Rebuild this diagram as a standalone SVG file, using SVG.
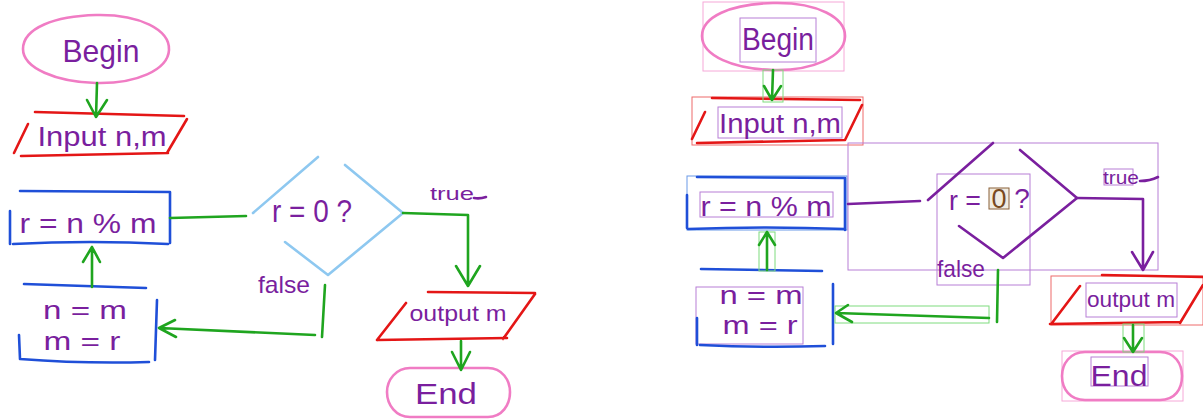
<svg xmlns="http://www.w3.org/2000/svg" width="1203" height="419" viewBox="0 0 1203 419">
<defs>
<style>
.ink{fill:none;stroke-width:2.6;stroke-linecap:round;stroke-linejoin:round}
.pink{stroke:#f07cc4}
.red{stroke:#e41616}
.blue{stroke:#1f4fd8}
.lblue{stroke:#8ec8f0}
.green{stroke:#1fa51f}
.purple{stroke:#7a1f9e}
.t{font-family:"Liberation Sans","DejaVu Sans",sans-serif;fill:#7a1f9e;text-anchor:middle}
.bx{fill:none;stroke-width:1}
.bpink{stroke:#f6a8d8}
.bpur{stroke:#b77fd6}
.bred{stroke:#ee6a6a}
.bgreen{stroke:#7fdc7f}
.bblue{stroke:#6a9ae8}
.bbrown{stroke:#8a6038;fill:#d8c8a8;fill-opacity:0.35}
</style>
</defs>
<rect width="1203" height="419" fill="#ffffff"/>

<!-- LEFT DIAGRAM -->
<g id="L-begin">
<path class="ink pink" d="M96,15 C140,14 170,30 169,50 C168,70 136,84 96,83 C56,82 23,68 23,49 C23,28 55,16 96,15 Z"/>
<text class="t" x="101" y="62" font-size="32" textLength="77" lengthAdjust="spacingAndGlyphs">Begin</text>
</g>
<g id="L-input">
<path class="ink red" d="M35,112 L184,116 M187,119 L167,153 M21,156 L168,153 M28,124 L14,153"/>
<text class="t" x="102" y="146" font-size="27" textLength="129" lengthAdjust="spacingAndGlyphs">Input n,m</text>
</g>
<g id="L-calc">
<path class="ink blue" d="M20,191 L170,192 L170,243 M13,244 Q90,240 168,244 M10,211 L10,244"/>
<text class="t" x="88" y="233" font-size="28" textLength="137" lengthAdjust="spacingAndGlyphs">r = n % m</text>
</g>
<g id="L-decision">
<path class="ink lblue" d="M253,213 L318,157 M345,165 L403,213 L328,275 L285,242"/>
<text class="t" x="312" y="222" font-size="32" textLength="80" lengthAdjust="spacingAndGlyphs">r = 0 ?</text>
</g>
<g id="L-swap">
<path class="ink blue" d="M24,284 L146,288 M157,300 L155,360 M20,359 Q85,364 149,362 M19,335 L20,359"/>
<text class="t" x="85" y="319" font-size="26" textLength="84" lengthAdjust="spacingAndGlyphs">n = m</text>
<text class="t" x="82" y="350" font-size="26" textLength="77" lengthAdjust="spacingAndGlyphs">m = r</text>
</g>
<g id="L-output">
<path class="ink red" d="M428,292 L535,293 M535,294 L503,339 M377,340 L507,338 M406,303 L377,340"/>
<text class="t" x="458" y="321" font-size="22" textLength="97" lengthAdjust="spacingAndGlyphs">output m</text>
</g>
<g id="L-end">
<path class="ink pink" d="M410,368 L488,368 C502,368 510,380 510,392 C510,405 502,417 488,417 L410,417 C396,417 387,405 387,392 C387,380 396,368 410,368 Z"/>
<text class="t" x="446" y="404" font-size="30" textLength="62" lengthAdjust="spacingAndGlyphs">End</text>
</g>
<g id="L-connectors">
<path class="ink green" d="M97,83 L96,117 M87,100 L96,117 L107,100"/>
<path class="ink green" d="M170,218 L246,216"/>
<path class="ink green" d="M403,213 L468,215 L468,285 M456,266 L468,286 L480,266"/>
<path class="ink green" d="M461,341 L461,370 M452,352 L461,370 L470,352"/>
<path class="ink green" d="M325,285 L322,337 M315,335 L159,328 M175,320 L159,328 L176,337"/>
<path class="ink green" d="M92,287 L92,247 M83,262 L92,247 L100,262"/>
<text class="t" x="452" y="200" font-size="19" textLength="44" lengthAdjust="spacingAndGlyphs">true</text>
<path class="ink purple" d="M474,198 Q480,199 486,197"/>
<text class="t" x="284" y="293" font-size="24" textLength="52" lengthAdjust="spacingAndGlyphs">false</text>
</g>

<!-- RIGHT DIAGRAM -->
<g id="R-begin">
<rect class="bx bpink" x="703" y="2" width="141" height="69"/>
<rect class="bx bpur" x="740" y="18" width="76" height="44"/>
<path class="ink pink" d="M773,3 C818,2 846,18 845,37 C844,57 812,71 773,70 C734,69 702,56 702,36 C702,17 730,4 773,3 Z"/>
<text class="t" x="778" y="50" font-size="31" textLength="72" lengthAdjust="spacingAndGlyphs">Begin</text>
</g>
<g id="R-input">
<rect class="bx bred" x="692" y="97" width="171" height="48"/>
<rect class="bx bpur" x="718" y="107" width="124" height="31"/>
<path class="ink red" d="M712,98 L860,100 M862,105 L845,140 M697,143 L845,140 M705,112 L692,139"/>
<text class="t" x="780" y="133" font-size="27" textLength="122" lengthAdjust="spacingAndGlyphs">Input n,m</text>
</g>
<g id="R-calc">
<rect class="bx bblue" x="687" y="176" width="160" height="54"/>
<rect class="bx bpur" x="700" y="192" width="133" height="25"/>
<path class="ink blue" d="M697,177 L845,178 L845,230 M688,229 Q766,226 845,229 M687,195 L687,228"/>
<text class="t" x="766" y="216" font-size="27" textLength="131" lengthAdjust="spacingAndGlyphs">r = n % m</text>
</g>
<g id="R-decision">
<rect class="bx bpur" x="848" y="143" width="310" height="127"/>
<rect class="bx bpur" x="937" y="174" width="93" height="111"/>
<rect class="bx bbrown" x="989" y="188" width="20" height="21"/>
<path class="ink purple" d="M928,200 L993,143 M1020,150 L1077,198 L1003,258 L959,226"/>
<text class="t" x="965" y="210" font-size="28" textLength="32" lengthAdjust="spacingAndGlyphs">r =</text>
<text x="999" y="208" font-size="27" font-family="Liberation Sans,DejaVu Sans,sans-serif" fill="#7a4a1e" text-anchor="middle">0</text>
<text class="t" x="1022" y="208" font-size="28">?</text>
</g>
<g id="R-swap">
<rect class="bx bpur" x="696" y="287" width="107" height="57"/>
<path class="ink blue" d="M701,269 L822,271 M833,284 L833,344 M700,345 Q762,348 825,346 M697,318 L697,345"/>
<text class="t" x="761" y="304" font-size="26" textLength="83" lengthAdjust="spacingAndGlyphs">n = m</text>
<text class="t" x="760" y="334" font-size="26" textLength="75" lengthAdjust="spacingAndGlyphs">m = r</text>
</g>
<g id="R-output">
<rect class="bx bred" x="1051" y="276" width="152" height="49"/>
<rect class="bx bpur" x="1086" y="283" width="91" height="34"/>
<path class="ink red" d="M1102,275 L1203,277 M1203,285 L1180,323 M1050,324 L1180,322 M1080,286 L1052,323"/>
<text class="t" x="1131" y="307" font-size="22" textLength="88" lengthAdjust="spacingAndGlyphs">output m</text>
</g>
<g id="R-end">
<rect class="bx bpink" x="1062" y="351" width="121" height="50"/>
<rect class="bx bpur" x="1091" y="357" width="57" height="29"/>
<path class="ink pink" d="M1085,352 L1160,352 C1175,352 1182,364 1182,376 C1182,389 1175,400 1160,400 L1085,400 C1070,400 1062,389 1062,376 C1062,364 1070,352 1085,352 Z"/>
<text class="t" x="1119" y="386" font-size="30" textLength="57" lengthAdjust="spacingAndGlyphs">End</text>
</g>
<g id="R-connectors">
<rect class="bx bgreen" x="763" y="70" width="20" height="32"/>
<path class="ink green" d="M773,70 L772,100 M764,86 L772,100 L781,86"/>
<path class="ink purple" d="M848,204 L920,201"/>
<path class="ink purple" d="M1077,198 L1143,199 L1143,269 M1132,252 L1143,270 L1153,252"/>
<rect class="bx bgreen" x="1123" y="324" width="21" height="28"/>
<path class="ink green" d="M1133,325 L1133,352 M1124,338 L1133,352 L1142,338"/>
<rect class="bx bgreen" x="835" y="306" width="154" height="17"/>
<path class="ink green" d="M998,270 L997,322 M989,318 L836,313 M848,305 L836,313 L852,322"/>
<rect class="bx bgreen" x="759" y="232" width="16" height="39"/>
<path class="ink green" d="M767,270 L767,232 M759,245 L767,232 L775,245"/>
<rect class="bx bpur" x="1104" y="169" width="29" height="16"/>
<text class="t" x="1121" y="184" font-size="19" textLength="36" lengthAdjust="spacingAndGlyphs">true</text>
<path class="ink purple" d="M1140,181 Q1150,181 1158,177"/>
<text class="t" x="961" y="277" font-size="24" textLength="48" lengthAdjust="spacingAndGlyphs">false</text>
</g>
</svg>
